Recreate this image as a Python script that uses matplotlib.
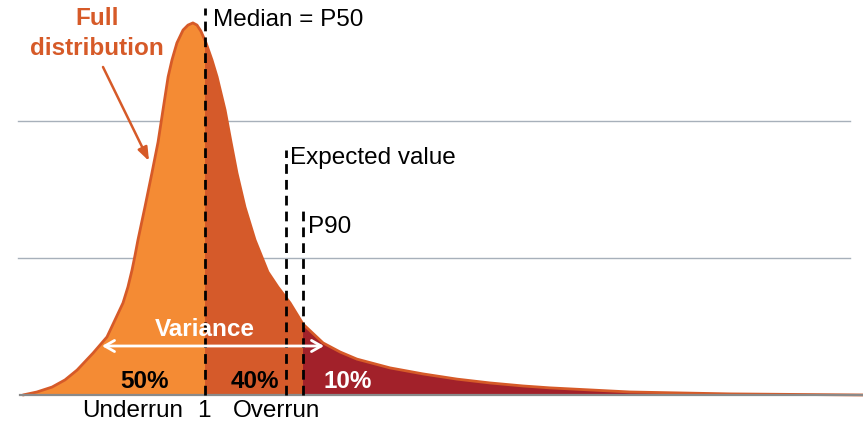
import matplotlib
matplotlib.use("Agg")
import matplotlib.pyplot as plt
from matplotlib.patches import Rectangle, FancyArrowPatch

plt.rcParams['font.family'] = ['Liberation Sans', 'DejaVu Sans']

# ---- data (x = cost ratio, median = 1) ----
cost_ratio = [0.112, 0.180, 0.254, 0.317, 0.376, 0.454, 0.522, 0.561, 0.600, 0.624,
              0.644, 0.659, 0.673, 0.707, 0.741, 0.771, 0.795, 0.820, 0.839, 0.863,
              0.893, 0.917, 0.941, 0.961, 0.980, 1.005, 1.034, 1.059, 1.078, 1.098,
              1.127, 1.156, 1.195, 1.244, 1.307, 1.356, 1.415, 1.478, 1.576, 1.659,
              1.741, 1.902, 2.063, 2.229, 2.390, 2.551, 2.683, 3.073, 3.561, 4.210]
density = [0.000, 0.011, 0.029, 0.055, 0.091, 0.153, 0.212, 0.274, 0.336, 0.394,
           0.456, 0.511, 0.566, 0.686, 0.810, 0.923, 1.040, 1.161, 1.223, 1.285,
           1.332, 1.350, 1.358, 1.350, 1.328, 1.285, 1.223, 1.161, 1.102, 1.040,
           0.923, 0.810, 0.686, 0.566, 0.449, 0.394, 0.336, 0.259, 0.190, 0.157,
           0.131, 0.099, 0.077, 0.058, 0.044, 0.033, 0.026, 0.011, 0.004, 0.000]

median_x = 1.0
expected_x = 1.395
p90_x = 1.478
share_labels = ["50%", "40%", "10%"]
axis_labels = ["Underrun", "1", "Overrun"]
gridlines_y = [0.5, 1.0]

# ---- layout helpers (pixel -> data) ----
W, H = 863, 424
X_SCALE, Y_SCALE, BASE = 205.0, 274.0, 395.0
def px(x, y):
    return x / X_SCALE, (BASE - y) / Y_SCALE

C_LIGHT = "#F48B34"
C_MID = "#D55A2A"
C_DARK = "#A2212A"
C_LINE = "#D65A28"

fig = plt.figure(figsize=(W / 100, H / 100), dpi=100)
ax = fig.add_axes([0, 0, 1, 1])
ax.set_xlim(0, W / X_SCALE)
ax.set_ylim((BASE - H) / Y_SCALE, BASE / Y_SCALE)
ax.axis("off")

# gridlines
for gy in gridlines_y:
    ax.plot([18 / X_SCALE, 850 / X_SCALE], [gy, gy], color="#A7B0BA", lw=1.0, zorder=1)

# fills clipped into three regions
x_min, x_max = 0, W / X_SCALE
regions = [(x_min, median_x, C_LIGHT), (median_x, p90_x, C_MID), (p90_x, x_max, C_DARK)]
for x0, x1, col in regions:
    poly = ax.fill_between(cost_ratio, 0, density, color=col, lw=0, zorder=2)
    clip = Rectangle((x0, -1), x1 - x0, 5, transform=ax.transData)
    poly.set_clip_path(clip)

# outline
ax.plot(cost_ratio, density, color=C_LINE, lw=2.0, zorder=3,
        solid_capstyle="round", solid_joinstyle="round")

# baseline
ax.plot([20 / X_SCALE, x_max], [0, 0], color="#8A8A8A", lw=1.6, zorder=4)

# dashed marker lines
dash = dict(color="black", lw=2.0, linestyle=(0, (3.5, 2.2)), zorder=5)
ax.plot([median_x, median_x], [0, px(0, 8)[1]], **dash)
ax.plot([expected_x, expected_x], [0, px(0, 150)[1]], **dash)
ax.plot([p90_x, p90_x], [0, px(0, 208)[1]], **dash)

fs = 17.5
ax.text(*px(213, 20), "Median = P50", fontsize=fs, va="center", ha="left", zorder=6)
ax.text(*px(290, 158), "Expected value", fontsize=fs, va="center", ha="left", zorder=6)
ax.text(*px(308, 227), "P90", fontsize=fs, va="center", ha="left", zorder=6)

# percentages
ax.text(*px(145, 381), share_labels[0], fontsize=fs, fontweight="bold", ha="center", va="center", color="black", zorder=6)
ax.text(*px(255, 381), share_labels[1], fontsize=fs, fontweight="bold", ha="center", va="center", color="black", zorder=6)
ax.text(*px(348, 381), share_labels[2], fontsize=fs, fontweight="bold", ha="center", va="center", color="white", zorder=6)

# axis words
ax.text(*px(133, 411), axis_labels[0], fontsize=fs, ha="center", va="center", zorder=6)
ax.text(*px(204, 411), axis_labels[1], fontsize=fs, ha="center", va="center", zorder=6)
ax.text(*px(277, 411), axis_labels[2], fontsize=fs, ha="center", va="center", zorder=6)

# variance
ax.text(*px(205, 330), "Variance", fontsize=fs, fontweight="bold", ha="center", va="center", color="white", zorder=6)
ax.add_patch(FancyArrowPatch(px(102, 346), px(324, 346), arrowstyle="<->,head_length=7,head_width=4",
                             color="white", lw=2.0, zorder=6, shrinkA=0, shrinkB=0,
                             transform=ax.transData))

# full distribution annotation
ax.text(*px(97, 18), "Full", fontsize=fs, fontweight="bold", ha="center", va="center", color=C_LINE, zorder=6)
ax.text(*px(97, 48), "distribution", fontsize=fs, fontweight="bold", ha="center", va="center", color=C_LINE, zorder=6)
ax.add_patch(FancyArrowPatch(px(103, 67), px(149, 161), arrowstyle="-|>,head_length=8,head_width=3",
                             color=C_LINE, lw=1.8, zorder=6, shrinkA=0, shrinkB=0,
                             transform=ax.transData))

fig.savefig("out.png", dpi=100)
